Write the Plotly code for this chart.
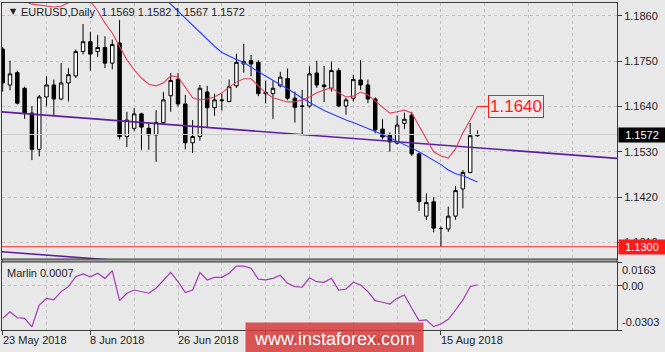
import plotly.graph_objects as go
import pandas as pd

# ---------------- data ----------------
dates = pd.bdate_range("2018-05-23", "2018-08-22")
date_labels = [d.strftime("%-d %b %Y") for d in dates]

opens = [1.1779, 1.1692, 1.1722, 1.1684, 1.1624, 1.1536, 1.1663, 1.1692, 1.1658, 1.1697,
         1.1714, 1.1773, 1.1797, 1.1773, 1.1783, 1.1745, 1.1794, 1.1567, 1.1587, 1.1622,
         1.1587, 1.1571, 1.1601, 1.1666, 1.1706, 1.1646, 1.1552, 1.1567, 1.1675, 1.1637,
         1.1656, 1.1652, 1.1690, 1.1743, 1.1751, 1.1747, 1.1674, 1.1671, 1.1690, 1.1708,
         1.1660, 1.1640, 1.1641, 1.1721, 1.1692, 1.1684, 1.1727, 1.1641, 1.1660, 1.1704,
         1.1692, 1.1658, 1.1585, 1.1570, 1.1551, 1.1599, 1.1619, 1.1525, 1.1374, 1.1409,
         1.1344, 1.1343, 1.1374, 1.1440, 1.1480, 1.1569]
highs = [1.1784, 1.1751, 1.1727, 1.1688, 1.1641, 1.1668, 1.1713, 1.1705, 1.1745, 1.1733,
         1.1778, 1.1840, 1.1821, 1.1813, 1.1810, 1.1802, 1.1850, 1.1627, 1.1636, 1.1625,
         1.1599, 1.1631, 1.1675, 1.1721, 1.1721, 1.1668, 1.1607, 1.1692, 1.1690, 1.1671,
         1.1671, 1.1705, 1.1768, 1.1792, 1.1765, 1.1752, 1.1703, 1.1703, 1.1724, 1.1732,
         1.1676, 1.1680, 1.1738, 1.1751, 1.1738, 1.1749, 1.1733, 1.1661, 1.1717, 1.1752,
         1.1705, 1.1662, 1.1609, 1.1577, 1.1618, 1.1625, 1.1627, 1.1528, 1.1429, 1.1420,
         1.1349, 1.1397, 1.1447, 1.1486, 1.1600, 1.1582]
lows = [1.1676, 1.1679, 1.1645, 1.1610, 1.1510, 1.1519, 1.1640, 1.1617, 1.1655, 1.1652,
        1.1709, 1.1766, 1.1727, 1.1760, 1.1733, 1.1730, 1.1560, 1.1542, 1.1580, 1.1535,
        1.1535, 1.1506, 1.1595, 1.1627, 1.1640, 1.1536, 1.1527, 1.1557, 1.1590, 1.1617,
        1.1630, 1.1650, 1.1685, 1.1722, 1.1713, 1.1665, 1.1647, 1.1610, 1.1686, 1.1655,
        1.1601, 1.1571, 1.1636, 1.1685, 1.1651, 1.1676, 1.1638, 1.1620, 1.1652, 1.1680,
        1.1648, 1.1575, 1.1560, 1.1530, 1.1548, 1.1585, 1.1520, 1.1387, 1.1365, 1.1335,
        1.1300, 1.1336, 1.1365, 1.1393, 1.1478, 1.1567]
closes = [1.1697, 1.1719, 1.1648, 1.1624, 1.1536, 1.1663, 1.1692, 1.1658, 1.1697, 1.1717,
          1.1773, 1.1797, 1.1767, 1.1783, 1.1745, 1.1790, 1.1567, 1.1607, 1.1622, 1.1590,
          1.1571, 1.1601, 1.1656, 1.1703, 1.1646, 1.1552, 1.1567, 1.1684, 1.1637, 1.1656,
          1.1654, 1.1688, 1.1747, 1.1749, 1.1743, 1.1671, 1.1671, 1.1684, 1.1711, 1.1660,
          1.1638, 1.1641, 1.1719, 1.1692, 1.1688, 1.1727, 1.1641, 1.1656, 1.1705, 1.1692,
          1.1658, 1.1583, 1.1566, 1.1554, 1.1595, 1.1609, 1.1525, 1.1409, 1.1407, 1.1345,
          1.1344, 1.1374, 1.1436, 1.1480, 1.1569, 1.1572]

red_ma = [None, None, 1.1905, 1.1895, 1.1888, 1.1886, 1.1883, 1.1881, 1.1883, 1.1891,
          1.1900, 1.1905, 1.1895, 1.1872, 1.1842, 1.1818, 1.1784, 1.1753, 1.1729, 1.1709,
          1.1694, 1.1690, 1.1697, 1.1714, 1.1712, 1.1687, 1.1661, 1.1656, 1.1658, 1.1663,
          1.1673, 1.1687, 1.1699, 1.1707, 1.1707, 1.1690, 1.1673, 1.1661, 1.1656, 1.1651,
          1.1651, 1.1656, 1.1663, 1.1673, 1.1680, 1.1685, 1.1673, 1.1663, 1.1665, 1.1675,
          1.1668, 1.1653, 1.1639, 1.1624, 1.1627, 1.1631, 1.1624, 1.1592, 1.1560, 1.1530,
          1.1520, 1.1515, 1.1537, 1.1576, 1.1607, 1.1640]
blue_ma = [None] * 22 + [1.1905, 1.1888, 1.1870, 1.1853, 1.1836, 1.1819, 1.1802, 1.1786,
                         1.1771, 1.1762, 1.1754, 1.1747, 1.1735, 1.1724, 1.1714, 1.1704,
                         1.1694, 1.1684, 1.1672, 1.1660, 1.1649, 1.1640, 1.1630, 1.1622,
                         1.1614, 1.1607, 1.1601, 1.1594, 1.1587, 1.1580, 1.1572, 1.1564,
                         1.1556, 1.1548, 1.1539, 1.1530, 1.1520, 1.1509, 1.1499, 1.1486,
                         1.1477, 1.1472, 1.1464, 1.1457]
marlin = [-0.0223, -0.0178, -0.0219, -0.0223, -0.0281, -0.0132, -0.0086, -0.0097, -0.0040, -0.0006,
          0.0062, 0.0081, 0.0062, 0.0086, 0.0051, 0.0103, -0.0102, -0.0051, -0.0029, -0.0040,
          -0.0051, -0.0017, 0.0040, 0.0092, 0.0028, -0.0047, -0.0029, 0.0090, 0.0040, 0.0058,
          0.0058, 0.0086, 0.0135, 0.0135, 0.0120, 0.0045, 0.0040, 0.0051, 0.0072, 0.0017,
          -0.0006, -0.0010, 0.0055, 0.0028, 0.0024, 0.0051, -0.0029, -0.0022, 0.0024, 0.0005,
          -0.0040, -0.0102, -0.0113, -0.0125, -0.0086, -0.0063, -0.0154, -0.0239, -0.0234, -0.0280,
          -0.0262, -0.0230, -0.0166, -0.0097, -0.0006, 0.0007]

trend_x = [-1, 85]
trend_upper = [1.1628, 1.1513]
trend_lower = [1.1289, 1.1174]

price_ticks = [1.1310, 1.1420, 1.1530, 1.1640, 1.1750, 1.1860]
marlin_ticks = [0.0163, 0.0, -0.0303]
marlin_tick_text = ["0.0163", "0.00", "-0.0303"]
support_level = 1.1300
target_level = 1.1640
last_price = 1.1572
title_text = "EURUSD,Daily  1.1569 1.1582 1.1567 1.1572"
indicator_text = "Marlin 0.0007"
watermark_text = "www.instaforex.com"

# ---------------- figure ----------------
idx = list(range(len(dates)))
FONT = "Liberation Sans, Arial, sans-serif"
BG = "#e8e8e8"
GRID = "#c2c2c2"
BORDER = "#3a3a3a"
TXT = "#1e1e1e"

fig = go.Figure()

fig.add_trace(go.Scatter(x=trend_x, y=trend_upper, mode="lines", xaxis="x", yaxis="y",
                         line=dict(color="#5e1f9e", width=1.6), hoverinfo="skip"))
fig.add_trace(go.Scatter(x=trend_x, y=trend_lower, mode="lines", xaxis="x", yaxis="y",
                         line=dict(color="#5e1f9e", width=1.6), hoverinfo="skip"))
fig.add_trace(go.Scatter(x=[trend_x[0], trend_x[1]], y=[last_price, last_price], mode="lines",
                         xaxis="x", yaxis="y", line=dict(color="#cdcdcd", width=1), hoverinfo="skip"))
fig.add_trace(go.Scatter(x=[trend_x[0], trend_x[1]], y=[support_level, support_level], mode="lines",
                         xaxis="x", yaxis="y", line=dict(color="#ff3030", width=1), hoverinfo="skip"))

fig.add_trace(go.Candlestick(
    x=idx, open=opens, high=highs, low=lows, close=closes, xaxis="x", yaxis="y",
    increasing=dict(line=dict(color="#000000", width=1), fillcolor="#ffffff"),
    decreasing=dict(line=dict(color="#000000", width=1), fillcolor="#000000"),
    whiskerwidth=0, hoverinfo="skip"))

fig.add_trace(go.Scatter(x=idx, y=red_ma, mode="lines", xaxis="x", yaxis="y",
                         line=dict(color="#e0405e", width=1.1), hoverinfo="skip"))
fig.add_trace(go.Scatter(x=idx, y=blue_ma, mode="lines", xaxis="x", yaxis="y",
                         line=dict(color="#2a3cff", width=1.1), hoverinfo="skip"))
fig.add_trace(go.Scatter(x=idx, y=marlin, mode="lines", xaxis="x2", yaxis="y2",
                         line=dict(color="#a43cb4", width=1.2), hoverinfo="skip"))

XR = [-0.096, 84.1]
H_PLOT = 327.0
main_dom = [(330 - 259) / H_PLOT, 1.0]
ind_dom = [0.0, (330 - 262) / H_PLOT]

label_ticks = idx[::12]
label_text = [date_labels[i] for i in label_ticks]

common_x = dict(range=XR, showline=True, mirror=True, linecolor=BORDER, linewidth=1,
                showgrid=True, gridcolor=GRID, griddash="3px,3px", gridwidth=1,
                zeroline=False, tickmode="array", tickvals=label_ticks,
                minor=dict(tick0=0, dtick=6, showgrid=True, gridcolor=GRID,
                           griddash="3px,3px", ticklen=0, ticks=""),
                fixedrange=True)

fig.update_layout(
    width=665, height=352,
    margin=dict(l=2, r=48, t=3, b=22),
    paper_bgcolor=BG, plot_bgcolor=BG,
    showlegend=False, hovermode=False,
    boxgap=0.32,
    font=dict(family=FONT, size=11, color=TXT),
    xaxis=dict(common_x, anchor="y", domain=[0, 1], showticklabels=False, ticks="",
               rangeslider=dict(visible=False)),
    xaxis2=dict(common_x, anchor="y2", domain=[0, 1], matches="x",
                showticklabels=False, ticks="outside", ticklen=4, tickcolor=BORDER),
    yaxis=dict(domain=main_dom, range=[1.12702, 1.18908], side="right", anchor="x",
               showline=True, mirror=True, linecolor=BORDER, linewidth=1,
               tickmode="array", tickvals=price_ticks,
               ticktext=[f"{v:.4f}" for v in price_ticks],
               ticks="outside", ticklen=4, tickcolor=BORDER,
               showgrid=True, gridcolor=GRID, griddash="3px,3px", zeroline=False,
               tickfont=dict(family=FONT, size=11, color=TXT), fixedrange=True),
    yaxis2=dict(domain=ind_dom, range=[-0.0303, 0.0163], side="right", anchor="x2",
                showline=True, mirror=True, linecolor=BORDER, linewidth=1,
                tickmode="array", tickvals=marlin_ticks, showticklabels=False,
                ticks="outside", ticklen=4, tickcolor=BORDER,
                showgrid=True, gridcolor=GRID, griddash="3px,3px", zeroline=False,
                fixedrange=True),
)

# separator between panels
fig.add_shape(type="rect", xref="paper", yref="paper", x0=0, x1=1,
              y0=ind_dom[1], y1=main_dom[0], fillcolor="#9c9c9c",
              line=dict(color=BORDER, width=1), layer="above")

annotations = []
# date labels (left-aligned at their tick, as in the terminal)
for i, t in zip(label_ticks, label_text):
    annotations.append(dict(xref="x2", x=i, xanchor="left", xshift=-2, yref="paper",
                            y=(330 - 340) / H_PLOT, yanchor="middle", text=t, showarrow=False,
                            font=dict(family=FONT, size=11, color=TXT)))
# indicator axis labels
for v, t, sh in zip(marlin_ticks, marlin_tick_text, [-8, 0, 8]):
    annotations.append(dict(xref="paper", x=1, xanchor="left", xshift=3, yref="y2", y=v,
                            yshift=sh, yanchor="middle", text=t, showarrow=False,
                            font=dict(family=FONT, size=11, color=TXT)))
# title
annotations.append(dict(xref="paper", x=(8 - 2) / 615, xanchor="left", yref="paper",
                        y=(330 - 11) / H_PLOT, yanchor="middle", text="▼", showarrow=False,
                        font=dict(family="DejaVu Sans", size=8, color=TXT)))
annotations.append(dict(xref="paper", x=(19 - 2) / 615, xanchor="left", yref="paper",
                        y=(330 - 12) / H_PLOT, yanchor="middle", text=title_text, showarrow=False,
                        font=dict(family=FONT, size=11, color=TXT)))
annotations.append(dict(xref="paper", x=(5 - 2) / 615, xanchor="left", yref="paper",
                        y=(330 - 273) / H_PLOT, yanchor="middle", text=indicator_text,
                        showarrow=False, font=dict(family=FONT, size=11, color=TXT)))
# price boxes on the right axis
annotations.append(dict(xref="paper", x=1, xanchor="left", xshift=1, yref="y", y=last_price,
                        yanchor="middle", text=f"{last_price:.4f}", showarrow=False,
                        bgcolor="#000000", width=44, height=12, borderpad=1,
                        font=dict(family=FONT, size=11, color="#ffffff")))
annotations.append(dict(xref="paper", x=1, xanchor="left", xshift=1, yref="y", y=support_level,
                        yanchor="middle", text=f"{support_level:.4f}", showarrow=False,
                        bgcolor="#ff1a1a", width=44, height=12, borderpad=1,
                        font=dict(family=FONT, size=11, color="#ffffff")))
# target label
annotations.append(dict(xref="x", x=idx[-1], yref="y", y=target_level, text=f"{target_level:.4f}",
                        showarrow=True, arrowhead=0, arrowwidth=1, arrowcolor="#ff1a1a",
                        ax=39, ay=0, standoff=0, bgcolor="#ebebeb", bordercolor="#ff1a1a",
                        borderwidth=1, borderpad=1,
                        font=dict(family=FONT, size=17, color="#ff1a1a")))
# watermark (drawn last so it lies over the dates beneath it)
annotations.append(dict(xref="paper", x=(245 - 2) / 615, xanchor="left", yref="paper",
                        y=(330 - 322) / H_PLOT, yanchor="top", text=watermark_text,
                        showarrow=False, width=177, height=31, borderpad=0,
                        bgcolor="rgba(214,58,58,0.85)",
                        font=dict(family=FONT, size=18, color="#ffffff")))

fig.update_layout(annotations=annotations)

fig.write_html("out.html")
